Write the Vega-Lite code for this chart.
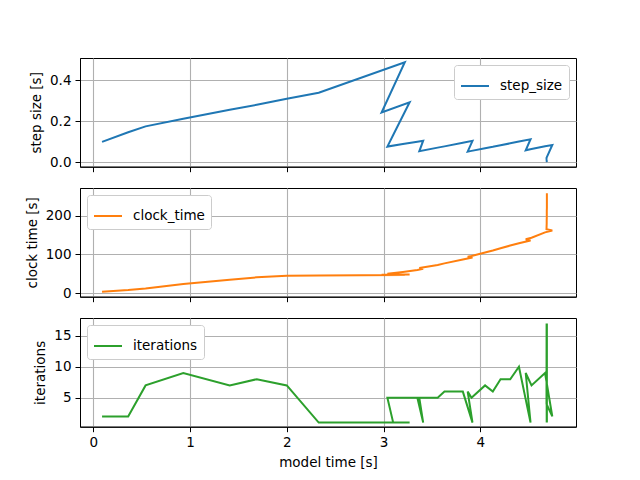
{
  "$schema": "https://vega.github.io/schema/vega-lite/v6.json",
  "background": "white",
  "padding": {"left": 24, "top": 57, "right": 10, "bottom": 5},
  "config": {
    "font": "DejaVu Sans",
    "view": {"stroke": "black", "strokeWidth": 1},
    "axis": {
      "labelFont": "DejaVu Sans", "titleFont": "DejaVu Sans",
      "labelFontSize": 13.5, "titleFontSize": 13.5, "titleFontWeight": "normal",
      "labelColor": "black", "titleColor": "black",
      "domainColor": "black", "tickColor": "black", "tickSize": 5, "labelPadding": 4,
      "gridColor": "#b0b0b0", "gridWidth": 1.1, "titlePadding": 6
    },
    "legend": {
      "labelFont": "DejaVu Sans", "labelFontSize": 13.5, "labelColor": "black",
      "strokeColor": "#cccccc", "fillColor": "white", "cornerRadius": 3, "padding": 6,
      "symbolType": "stroke", "symbolSize": 784, "symbolStrokeWidth": 2, "offset": 7, "labelOffset": 10
    }
  },
  "data": {"values": [
    {"i": 0, "t": 0.09, "step_size": 0.099, "clock_time": 4, "iterations": 2},
    {"i": 1, "t": 0.36, "step_size": 0.146, "clock_time": 8, "iterations": 2},
    {"i": 2, "t": 0.54, "step_size": 0.175, "clock_time": 12, "iterations": 7},
    {"i": 3, "t": 0.93, "step_size": 0.212, "clock_time": 24, "iterations": 9},
    {"i": 4, "t": 1.41, "step_size": 0.256, "clock_time": 35, "iterations": 7},
    {"i": 5, "t": 1.69, "step_size": 0.281, "clock_time": 41, "iterations": 8},
    {"i": 6, "t": 2.0, "step_size": 0.31, "clock_time": 45, "iterations": 7},
    {"i": 7, "t": 2.33, "step_size": 0.34, "clock_time": 46, "iterations": 1},
    {"i": 8, "t": 3.22, "step_size": 0.489, "clock_time": 47, "iterations": 1},
    {"i": 9, "t": 2.98, "step_size": 0.243, "clock_time": 47.5, "iterations": 1},
    {"i": 10, "t": 3.27, "step_size": 0.293, "clock_time": 48, "iterations": 1},
    {"i": 11, "t": 3.1, "step_size": 0.133, "clock_time": 48.5, "iterations": 1},
    {"i": 12, "t": 3.04, "step_size": 0.076, "clock_time": 50, "iterations": 5},
    {"i": 13, "t": 3.2, "step_size": 0.089, "clock_time": 55, "iterations": 5},
    {"i": 14, "t": 3.35, "step_size": 0.1, "clock_time": 60, "iterations": 5},
    {"i": 15, "t": 3.41, "step_size": 0.105, "clock_time": 63, "iterations": 1},
    {"i": 16, "t": 3.37, "step_size": 0.053, "clock_time": 65, "iterations": 5},
    {"i": 17, "t": 3.56, "step_size": 0.071, "clock_time": 73, "iterations": 5},
    {"i": 18, "t": 3.63, "step_size": 0.077, "clock_time": 77, "iterations": 6},
    {"i": 19, "t": 3.82, "step_size": 0.095, "clock_time": 87, "iterations": 6},
    {"i": 20, "t": 3.92, "step_size": 0.104, "clock_time": 92, "iterations": 1},
    {"i": 21, "t": 3.87, "step_size": 0.051, "clock_time": 94, "iterations": 6},
    {"i": 22, "t": 3.91, "step_size": 0.055, "clock_time": 96, "iterations": 5},
    {"i": 23, "t": 4.05, "step_size": 0.068, "clock_time": 105, "iterations": 7},
    {"i": 24, "t": 4.13, "step_size": 0.075, "clock_time": 110, "iterations": 6},
    {"i": 25, "t": 4.21, "step_size": 0.083, "clock_time": 116, "iterations": 8},
    {"i": 26, "t": 4.31, "step_size": 0.092, "clock_time": 123, "iterations": 8},
    {"i": 27, "t": 4.4, "step_size": 0.101, "clock_time": 129, "iterations": 10},
    {"i": 28, "t": 4.52, "step_size": 0.112, "clock_time": 136, "iterations": 1},
    {"i": 29, "t": 4.47, "step_size": 0.058, "clock_time": 139, "iterations": 9},
    {"i": 30, "t": 4.53, "step_size": 0.064, "clock_time": 143, "iterations": 7},
    {"i": 31, "t": 4.67, "step_size": 0.078, "clock_time": 157, "iterations": 9},
    {"i": 32, "t": 4.745, "step_size": 0.084, "clock_time": 162, "iterations": 2},
    {"i": 33, "t": 4.685, "step_size": 0.021, "clock_time": 165, "iterations": 4},
    {"i": 34, "t": 4.686, "step_size": 0.012, "clock_time": 172, "iterations": 17},
    {"i": 35, "t": 4.687, "step_size": 0.006, "clock_time": 180, "iterations": 1},
    {"i": 36, "t": 4.687, "step_size": 0.004, "clock_time": 188, "iterations": 16},
    {"i": 37, "t": 4.688, "step_size": 0.003, "clock_time": 196, "iterations": 1},
    {"i": 38, "t": 4.688, "step_size": 0.002, "clock_time": 204, "iterations": 17},
    {"i": 39, "t": 4.688, "step_size": 0.002, "clock_time": 212, "iterations": 1},
    {"i": 40, "t": 4.689, "step_size": 0.001, "clock_time": 220, "iterations": 15},
    {"i": 41, "t": 4.689, "step_size": 0.001, "clock_time": 228, "iterations": 1},
    {"i": 42, "t": 4.689, "step_size": 0.001, "clock_time": 236, "iterations": 17},
    {"i": 43, "t": 4.689, "step_size": 0.001, "clock_time": 244, "iterations": 1},
    {"i": 44, "t": 4.689, "step_size": 0.001, "clock_time": 252, "iterations": 16},
    {"i": 45, "t": 4.689, "step_size": 0.0015, "clock_time": 258, "iterations": 1}
  ]},
  "spacing": 14,
  "resolve": {"scale": {"color": "independent", "y": "independent"}, "legend": {"color": "independent"}},
  "vconcat": [
    {
      "width": 496, "height": 108.7,
      "mark": {"type": "line", "strokeWidth": 2},
      "encoding": {
        "x": {"field": "t", "type": "quantitative", "scale": {"domain": [-0.138, 4.99], "nice": false, "zero": false},
              "axis": {"values": [0, 1, 2, 3, 4], "labels": false, "title": null}},
        "y": {"field": "step_size", "type": "quantitative", "scale": {"domain": [-0.0225, 0.51], "nice": false, "zero": false},
              "axis": {"values": [0, 0.2, 0.4], "format": ".1f", "title": "step size [s]"}},
        "order": {"field": "i", "type": "quantitative"},
        "color": {"datum": "step_size", "type": "nominal", "scale": {"domain": ["step_size"], "range": ["#1f77b4"]},
                  "legend": {"orient": "top-right", "title": null}}
      }
    },
    {
      "width": 496, "height": 108.7,
      "mark": {"type": "line", "strokeWidth": 2},
      "encoding": {
        "x": {"field": "t", "type": "quantitative", "scale": {"domain": [-0.138, 4.99], "nice": false, "zero": false},
              "axis": {"values": [0, 1, 2, 3, 4], "labels": false, "title": null}},
        "y": {"field": "clock_time", "type": "quantitative", "scale": {"domain": [-9, 271.4], "nice": false, "zero": false},
              "axis": {"values": [0, 100, 200], "title": "clock time [s]"}},
        "order": {"field": "i", "type": "quantitative"},
        "color": {"datum": "clock_time", "type": "nominal", "scale": {"domain": ["clock_time"], "range": ["#ff7f0e"]},
                  "legend": {"orient": "top-left", "title": null}}
      }
    },
    {
      "width": 496, "height": 108.7,
      "mark": {"type": "line", "strokeWidth": 2},
      "encoding": {
        "x": {"field": "t", "type": "quantitative", "scale": {"domain": [-0.138, 4.99], "nice": false, "zero": false},
              "axis": {"values": [0, 1, 2, 3, 4], "title": "model time [s]"}},
        "y": {"field": "iterations", "type": "quantitative", "scale": {"domain": [0.34, 17.87], "nice": false, "zero": false},
              "axis": {"values": [5, 10, 15], "title": "iterations"}},
        "order": {"field": "i", "type": "quantitative"},
        "color": {"datum": "iterations", "type": "nominal", "scale": {"domain": ["iterations"], "range": ["#2ca02c"]},
                  "legend": {"orient": "top-left", "title": null}}
      }
    }
  ]
}
